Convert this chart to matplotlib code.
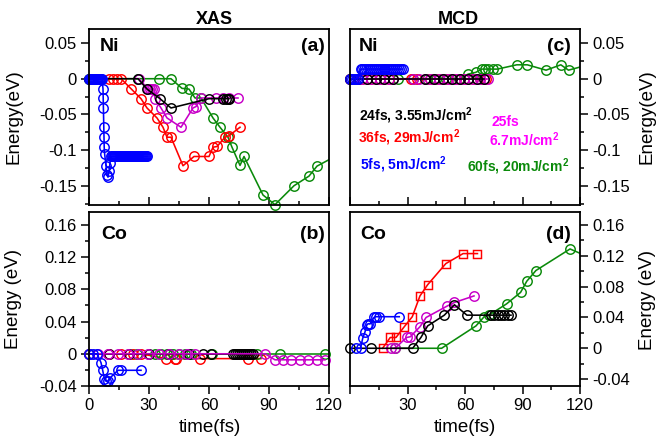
import numpy as np
import matplotlib
matplotlib.use("Agg")
import matplotlib.pyplot as plt
from matplotlib.ticker import MultipleLocator

plt.rcParams['font.family'] = ['Liberation Sans', 'DejaVu Sans']
plt.rcParams['axes.unicode_minus'] = False
plt.rcParams['mathtext.fontset'] = 'custom'
plt.rcParams['mathtext.rm'] = 'Liberation Sans'
plt.rcParams['mathtext.bf'] = 'Liberation Sans:bold'

BLUE, RED, MAG, BLK, GRN = '#0000ff', '#ff0000', '#c800c8', '#000000', '#0a8a0a'

# ---- (a) XAS, Ni ----
a_blue_t = [0, 0.5, 1, 1.5, 2, 2.5, 3, 3.5, 4, 4.5, 5, 5.5, 6, 6.5,
            7, 7.1, 7.2, 7.4, 7.5, 7.6, 7.8, 8.5, 9, 9.5, 10, 10.5,
            11, 11.5, 12, 12.5, 13, 13.5, 14, 14.5, 15, 15.5, 16, 16.5, 17, 17.5,
            18, 18.5, 19, 19.5, 20, 20.5, 21, 21.5, 22, 22.5, 23, 23.5, 24, 24.5,
            25, 25.5, 26, 26.5, 27, 27.5, 28, 28.5, 29]
a_blue_y = [0, 0, 0, 0, 0, 0, 0, 0, 0, 0, 0, 0, 0, 0,
            -0.014, -0.027, -0.041, -0.068, -0.082, -0.096, -0.105, -0.122, -0.135, -0.138, -0.13, -0.118,
            -0.109, -0.109, -0.109, -0.109, -0.109, -0.109, -0.109, -0.109, -0.109, -0.109, -0.109, -0.109, -0.109, -0.109,
            -0.109, -0.109, -0.109, -0.109, -0.109, -0.109, -0.109, -0.109, -0.109, -0.109, -0.109, -0.109, -0.109, -0.109,
            -0.109, -0.109, -0.109, -0.109, -0.109, -0.109, -0.109, -0.109, -0.109]
a_red_t = [10, 12, 14, 16, 21, 26, 29, 34, 37, 39, 41, 47, 52.5, 60, 62, 64, 68, 70, 75.5]
a_red_y = [0, 0, 0, 0, -0.014, -0.028, -0.041, -0.055, -0.068, -0.082, -0.082, -0.122,
           -0.109, -0.109, -0.096, -0.095, -0.082, -0.080, -0.068]
a_mag_t = [25, 29.5, 30.5, 31.5, 32.5, 33, 36, 39, 46, 52, 53.5, 56, 63.5, 67, 70, 74.5]
a_mag_y = [0, -0.0145, -0.0145, -0.0145, -0.0145, -0.028, -0.041, -0.055, -0.068, -0.041,
           -0.039, -0.027, -0.027, -0.027, -0.027, -0.027]
a_blk_t = [0, 24.5, 29, 35.5, 41, 60, 67, 68.5, 69.5, 70]
a_blk_y = [0, 0, -0.0145, -0.028, -0.041, -0.028, -0.028, -0.028, -0.028, -0.028]
a_grn_t = [0, 24.5, 35, 41, 46.5, 50, 53, 56, 62, 65.5, 69.5, 71.5, 75.5, 77.5, 87, 93,
           102.5, 110, 114, 125]
a_grn_y = [0, 0, 0, 0, -0.0135, -0.0145, -0.027, -0.027, -0.055, -0.068, -0.082, -0.096,
           -0.1215, -0.109, -0.163, -0.1765, -0.150, -0.1365, -0.1225, -0.106]

# ---- (b) XAS, Co ----
b_blue_t = [0, 2, 4, 6, 6.8, 7.7, 8.5, 9.3, 10.5, 14.5, 16, 26]
b_blue_y = [0, 0, 0, -0.011, -0.02, -0.031, -0.034, -0.034, -0.03, -0.0205, -0.0205, -0.0205]
b_red_t = [10, 16, 22, 26, 38.5, 43, 43.5, 55.5, 79.7, 86]
b_red_y = [0, 0, 0, 0, -0.006, -0.006, -0.006, -0.006, -0.006, -0.006]
b_grn_t = [0, 24, 33, 36, 39, 42, 45, 48, 51, 61.5, 84, 95.5, 118, 125]
b_grn_y = [0, 0, 0, 0, 0, 0, 0, 0, 0, 0, 0, 0, 0, 0]
b_blk_t = [0, 10, 20, 30, 40, 50, 57, 61, 72, 73, 74, 75, 76, 77, 78, 79, 80, 81, 82]
b_blk_y = [0, 0, 0, 0, 0, 0, 0, 0, 0, 0, 0, 0, 0, 0, 0, 0, 0, 0, 0]
b_mag_t = [0, 4.5, 9.5, 14.5, 19.5, 24.5, 29.5, 35, 40, 45, 49, 53, 88,
           93, 97, 101, 105.5, 109.5, 114, 118]
b_mag_y = [0, 0, 0, 0, 0, 0, 0, 0, 0, 0, 0, 0, 0,
           -0.0075, -0.0075, -0.0075, -0.0075, -0.0075, -0.0075, -0.0075]

# ---- (c) MCD, Ni ----
c_blue_t = [0, 1, 2, 3, 4, 5.5, 6.5, 7.5, 8.5, 9.5, 10.5, 11.5, 12.5, 13.5, 14.5, 15.5,
            16.5, 17.5, 18.5, 19.5, 20.5, 21.5, 22.5, 23.5, 24.5, 25.5, 26.5, 27.5]
c_blue_y = [0, 0, 0, 0, 0, 0.0135, 0.0135, 0.0135, 0.0135, 0.0135, 0.0135, 0.0135, 0.0135,
            0.0135, 0.0135, 0.0135, 0.0135, 0.0135, 0.0135, 0.0135, 0.0135, 0.0135, 0.0135,
            0.0135, 0.0135, 0.0135, 0.0135, 0.0135]
c_red_t = [0, 2, 6.5, 11, 15.8, 20.2, 32, 35, 41.5, 46.5, 51, 55.2, 59.6, 64, 68, 71]
c_red_y = [0, 0, 0, 0, 0, 0, 0, 0, 0, 0, 0, 0, 0, 0, 0, 0]
c_mag_t = [0, 2.2, 4.3, 6.5, 8.7, 11, 13.6, 15.8, 17.9, 20.2, 22.6, 33, 36, 39, 41.5, 44,
           46.5, 48.7, 51, 53, 55.2, 57.4, 59.6, 61.8, 64, 66, 68, 70, 72]
c_mag_y = [0, 0, 0, 0, 0, 0, 0, 0, 0, 0, 0, 0, 0, 0, 0, 0,
           0, 0, 0, 0, 0, 0, 0, 0, 0, 0, 0, 0, 0]
c_blk_t = [0, 4.3, 8.7, 13.6, 17.9, 22.6, 39, 44, 48.7, 53, 57.4, 61.8, 66, 70]
c_blk_y = [0, 0, 0, 0, 0, 0, 0, 0, 0, 0, 0, 0, 0, 0]
c_grn_t = [0, 25, 33, 40, 45, 50, 57, 61.7, 65.7, 68.7, 70.4, 72.2, 74.8, 76.9, 87, 92.5,
           102.3, 110, 114, 125]
c_grn_y = [0, 0, 0, 0, 0, 0, 0, 0.0065, 0.009, 0.0135, 0.0135, 0.0135, 0.0135, 0.0135,
           0.0195, 0.0195, 0.012, 0.0195, 0.012, 0.02]

# ---- (d) MCD, Co ----
d_blue_t = [3, 5.5, 6.6, 7.8, 8.7, 9.5, 10.4, 12.5, 13.5, 15.3, 25.7]
d_blue_y = [0, 0, 0.0127, 0.021, 0.030, 0.032, 0.0315, 0.040, 0.041, 0.041, 0.041]
d_red_t = [17, 21, 24, 28, 32.5, 36.5, 40.5, 50, 59, 66.5]
d_red_y = [0, 0.014, 0.014, 0.027, 0.041, 0.068, 0.0825, 0.11, 0.123, 0.123]
d_mag_t = [21.5, 23.5, 29.5, 31.5, 36.5, 39.7, 50.8, 54.5, 64.7]
d_mag_y = [0, 0, 0.014, 0.015, 0.028, 0.040, 0.055, 0.0595, 0.068]
d_blk_t = [0, 10.8, 32.7, 37, 40.5, 49.2, 54.5, 61, 73.5, 75.3, 77, 78.8, 80.5, 82.3, 84]
d_blk_y = [0, 0, 0, 0.014, 0.029, 0.043, 0.0565, 0.043, 0.043, 0.043, 0.043, 0.043,
           0.043, 0.043, 0.043]
d_grn_t = [23.5, 47.8, 65.7, 70, 72.5, 81.7, 89, 92.2, 97, 114.8, 125]
d_grn_y = [0, 0, 0.029, 0.041, 0.043, 0.0577, 0.0726, 0.087, 0.101, 0.129, 0.118]

ni_ticks = [-0.15, -0.1, -0.05, 0, 0.05]
ni_labels = ['-0.15', '-0.1', '-0.05', '0', '0.05']
co_ticks = [-0.04, 0, 0.04, 0.08, 0.12, 0.16]
co_labels = ['-0.04', '0', '0.04', '0.08', '0.12', '0.16']
t_ticks = [0, 30, 60, 90, 120]


def series(ax, t, y, color, marker='o', ms=6.8):
    t = np.asarray(t)
    y = np.asarray(y)
    ax.plot(t, y, '-', color=color, lw=1.15)
    keep = t <= 120
    ax.plot(t[keep], y[keep], ls='none', marker=marker, mfc='none', mec=color,
            ms=ms, mew=1.05, clip_on=False)


fig = plt.figure(figsize=(6.6, 4.45), dpi=100)
W, H = 660, 445


def box(x0, y0, x1, y1):
    return fig.add_axes([x0 / W, 1 - y1 / H, (x1 - x0) / W, (y1 - y0) / H])


ax_a = box(89, 29, 329, 205)
ax_b = box(89, 212, 329, 386)
ax_c = box(350, 29, 580, 205)
ax_d = box(350, 212, 580, 386)

series(ax_a, a_grn_t, a_grn_y, GRN)
series(ax_a, a_red_t, a_red_y, RED)
series(ax_a, a_mag_t, a_mag_y, MAG)
series(ax_a, a_blk_t, a_blk_y, BLK)
series(ax_a, a_blue_t, a_blue_y, BLUE)

series(ax_b, b_red_t, b_red_y, RED)
series(ax_b, b_grn_t, b_grn_y, GRN)
series(ax_b, b_blk_t, b_blk_y, BLK)
series(ax_b, b_mag_t, b_mag_y, MAG)
series(ax_b, b_blue_t, b_blue_y, BLUE)

series(ax_c, c_grn_t, c_grn_y, GRN)
series(ax_c, c_red_t, c_red_y, RED)
series(ax_c, c_mag_t, c_mag_y, MAG)
series(ax_c, c_blk_t, c_blk_y, BLK)
series(ax_c, c_blue_t, c_blue_y, BLUE)

series(ax_d, d_grn_t, d_grn_y, GRN)
series(ax_d, d_red_t, d_red_y, RED, marker='s', ms=6)
series(ax_d, d_mag_t, d_mag_y, MAG)
series(ax_d, d_blk_t, d_blk_y, BLK)
series(ax_d, d_blue_t, d_blue_y, BLUE)

for ax in (ax_a, ax_b, ax_c, ax_d):
    ax.set_xlim(0, 120)
    ax.xaxis.set_major_locator(MultipleLocator(30))
    ax.xaxis.set_minor_locator(MultipleLocator(15))
    for s in ax.spines.values():
        s.set_linewidth(1.3)
    ax.tick_params(which='major', length=5.5, width=1.1, labelsize=12)
    ax.tick_params(which='minor', length=2.8, width=1.1)

for ax in (ax_a, ax_c):
    ax.set_ylim(-0.177, 0.0697)
    ax.set_yticks(ni_ticks)
    ax.set_yticklabels(ni_labels)
    ax.yaxis.set_minor_locator(MultipleLocator(0.025))
    ax.tick_params(axis='x', which='both', direction='in', labelbottom=False)

for ax in (ax_b, ax_d):
    ax.set_yticks(co_ticks)
    ax.set_yticklabels(co_labels)
    ax.yaxis.set_minor_locator(MultipleLocator(0.02))
    ax.tick_params(axis='x', which='both', direction='out')
    ax.set_xticks(t_ticks)

ax_b.set_ylim(-0.04, 0.176)
ax_d.set_ylim(-0.049, 0.177)
ax_b.set_xticklabels(['0', '30', '60', '90', '120'])
ax_d.set_xticklabels(['', '30', '60', '90', '120'])

for ax in (ax_c, ax_d):
    ax.yaxis.tick_right()

for ax in (ax_a, ax_b, ax_c, ax_d):
    ax.tick_params(axis='y', which='both', direction='out')

# panel tags
for ax, el, tag, xl, xr, yy in ((ax_a, 'Ni', '(a)', 0.046, 0.983, 0.90),
                                (ax_b, 'Co', '(b)', 0.053, 0.983, 0.868),
                                (ax_c, 'Ni', '(c)', 0.036, 0.96, 0.90),
                                (ax_d, 'Co', '(d)', 0.043, 0.96, 0.868)):
    ax.text(xl, yy, el, transform=ax.transAxes, fontsize=14, fontweight='bold',
            ha='left', va='center')
    ax.text(xr, yy, tag, transform=ax.transAxes, fontsize=14, fontweight='bold',
            ha='right', va='center')

# legend-like annotations in (c)
kw = dict(fontsize=10, fontweight='bold', ha='left', va='center')
ax_c.text(4.5, -0.052, r'24fs, 3.55mJ/cm$^{\mathbf{2}}$', color='black', **kw)
ax_c.text(4.0, -0.083, r'36fs, 29mJ/cm$^{\mathbf{2}}$', color='#ff0000', **kw)
ax_c.text(5.4, -0.121, r'5fs, 5mJ/cm$^{\mathbf{2}}$', color='#0000ff', **kw)
ax_c.text(73.8, -0.0605, '25fs', color='#ff00ff', **kw)
ax_c.text(72.5, -0.085, r'6.7mJ/cm$^{\mathbf{2}}$', color='#ff00ff', **kw)
ax_c.text(61.0, -0.123, r'60fs, 20mJ/cm$^{\mathbf{2}}$', color=GRN, **kw)

# titles and axis labels
fig.text(214 / W, 1 - 24 / H, 'XAS', fontsize=13, fontweight='bold', ha='center', va='baseline')
fig.text(458 / W, 1 - 24 / H, 'MCD', fontsize=13, fontweight='bold', ha='center', va='baseline')
fig.text(14 / W, 1 - 117 / H, 'Energy(eV)', fontsize=13.5, rotation=90, ha='center', va='center')
fig.text(14 / W, 1 - 299 / H, 'Energy (eV)', fontsize=13.5, rotation=90, ha='center', va='center')
fig.text(647 / W, 1 - 117 / H, 'Energy(eV)', fontsize=13.5, rotation=90, ha='center', va='center')
fig.text(647 / W, 1 - 300 / H, 'Energy (eV)', fontsize=13.5, rotation=90, ha='center', va='center')
fig.text(210 / W, 1 - 428 / H, 'time(fs)', fontsize=13.5, ha='center', va='center')
fig.text(465 / W, 1 - 428 / H, 'time(fs)', fontsize=13.5, ha='center', va='center')

fig.savefig('out.png', dpi=100)
